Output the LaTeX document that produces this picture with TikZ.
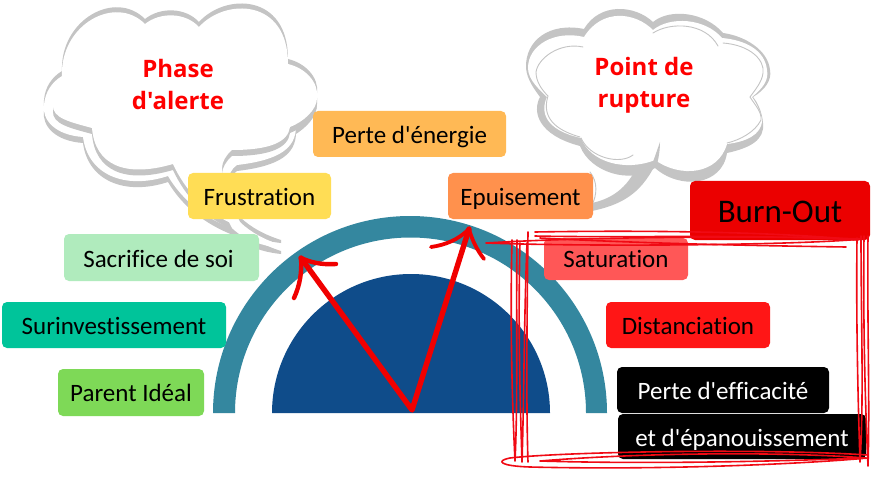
\documentclass[tikz,border=0pt]{standalone}
\usepackage{fontspec}
\newfontfamily\tagfont[Ligatures=NoCommon]{Carlito}
\newfontfamily\headfont{Open Sans}
\definecolor{ring}{HTML}{34879F}
\definecolor{dome}{HTML}{0F4C8A}
\definecolor{cloudgray}{HTML}{C4C4C4}
\definecolor{scrib}{HTML}{F00A14}
\definecolor{cEnergy}{HTML}{FFB955}
\definecolor{cFrus}{HTML}{FFDD55}
\definecolor{cEpui}{HTML}{FF914D}
\definecolor{cSacr}{HTML}{B0EBBD}
\definecolor{cSuri}{HTML}{00C49A}
\definecolor{cParent}{HTML}{7ED957}
\definecolor{cSatu}{HTML}{FF5757}
\definecolor{cDist}{HTML}{FF1616}
\definecolor{cBurn}{HTML}{EB0000}
\tikzset{
  tag/.style={rounded corners=5pt,inner sep=0pt,align=center,font=\tagfont\fontsize{25}{28}\selectfont,text=black},
  cloudshade/.style={fill=cloudgray,draw=none},
  cloudbody/.style={fill=white,draw=none},
  cloudline/.style={draw=cloudgray,line width=.9pt,line cap=round},
  cloudtitle/.style={font=\headfont\bfseries\fontsize{24}{32}\selectfont,text=red,align=center},
  scribble/.style={draw=scrib,line width=1.6pt,line cap=round,line join=round},
  hand/.style={draw=red!94!black,line width=5.4pt,line cap=round,line join=round}
}
\newcommand{\tagbox}[8]{% name, x0, y0, x1, y1, colour, lowering, text
  \node[tag,fill=#6,minimum width=#4pt-#2pt,minimum height=#5pt-#3pt] (#1) at ({(#2+#4)/2},{(#3+#5)/2}) {\raisebox{-#7pt}[\height][\depth]{#8}};}
\newcommand{\cloudQ}{(62,76) .. controls (60,25) and (115,-6) .. (145,24)
  .. controls (160,12) and (185,12) .. (199,27)
  .. controls (225,-2) and (288,-2) .. (288,64)
  .. controls (305,68) and (319,82) .. (317,98)
  .. controls (317,112) and (305,122) .. (296,128)
  .. controls (295,148) and (280,160) .. (237,165)
  .. controls (226,172) and (224,190) .. (240,222)
  .. controls (250,232) and (265,240) .. (281,245) -- (281,248)
  .. controls (262,246) and (245,240) .. (233,229)
  .. controls (205,218) and (182,200) .. (168,176)
  .. controls (125,190) and (88,175) .. (83,137)
  .. controls (55,135) and (42,120) .. (44,105)
  .. controls (45,92) and (52,82) .. (62,76) -- cycle}
\newcommand{\cloudP}{(65,72) .. controls (65,25) and (115,-2) .. (145,28)
  .. controls (160,16) and (185,16) .. (199,30)
  .. controls (225,2) and (285,2) .. (287,65)
  .. controls (305,70) and (318,85) .. (317,98)
  .. controls (317,110) and (303,122) .. (290,127)
  .. controls (288,142) and (270,150) .. (232,150)
  .. controls (226,155) and (222,162) .. (222,168)
  .. controls (222,190) and (222,205) .. (233,224)
  .. controls (205,212) and (185,190) .. (173,164)
  .. controls (125,178) and (95,165) .. (92,128)
  .. controls (70,122) and (52,118) .. (53,105)
  .. controls (54,97) and (58,92) .. (63,87) -- cycle}
\begin{document}
\begin{tikzpicture}[x=1pt,y=-1pt]
\useasboundingbox (0,0) rectangle (872,481);
\fill[white] (0,0) rectangle (872,481);
% cloud 1
\path[cloudshade,shift={(0,6)}] \cloudQ;
\path[cloudshade,shift={(0,-5)}] \cloudQ;
\path[cloudbody] \cloudQ;
\path[cloudshade,shift={(0,6)}] \cloudP;
\path[cloudbody] \cloudP;
% cloud 2 tail
\path[cloudshade] (655,165) .. controls (640,195) and (620,205) .. (592,211) -- (592,203)
  .. controls (615,198) and (630,185) .. (640,160) -- cycle;
\draw[cloudline] (590,172) .. controls (598,182) and (597,195) .. (592,205);
% cloud 2
\path[cloudshade] (653,22) .. controls (635,5) and (600,2) .. (584,29)
  .. controls (550,22) and (525,40) .. (526,68)
  .. controls (527,80) and (535,90) .. (540,97)
  .. controls (532,112) and (538,135) .. (580,146)
  .. controls (590,172) and (630,185) .. (655,168)
  .. controls (680,190) and (722,186) .. (727,153)
  .. controls (750,148) and (765,140) .. (763,123)
  .. controls (762,112) and (758,103) .. (753,97)
  .. controls (765,90) and (772,80) .. (770,70)
  .. controls (768,50) and (745,36) .. (723,33)
  .. controls (705,12) and (670,8) .. (653,22) -- cycle;
\path[cloudbody] (653,30) .. controls (635,12) and (602,8) .. (584,37)
  .. controls (555,30) and (528,45) .. (528,68)
  .. controls (528,80) and (540,90) .. (547,97)
  .. controls (540,112) and (545,130) .. (581,138)
  .. controls (590,162) and (625,172) .. (655,160)
  .. controls (680,178) and (718,175) .. (727,144)
  .. controls (745,142) and (762,135) .. (762,120)
  .. controls (761,112) and (756,103) .. (752,97)
  .. controls (763,88) and (769,80) .. (767,70)
  .. controls (765,50) and (745,40) .. (722,38)
  .. controls (705,18) and (670,16) .. (653,30) -- cycle;
\draw[cloudline] (583,47) .. controls (560,42) and (538,58) .. (536,72)
  .. controls (536,82) and (542,90) .. (548,96)
  .. controls (543,112) and (548,128) .. (580,137);
\draw[cloudline] (653,33) .. controls (670,22) and (705,22) .. (718,46);
\draw[cloudline] (723,43) .. controls (750,45) and (765,60) .. (763,73)
  .. controls (762,82) and (755,90) .. (750,97)
  .. controls (755,105) and (762,112) .. (761,120)
  .. controls (755,132) and (740,140) .. (727,143);
\draw[cloudline] (581,138) .. controls (590,158) and (620,165) .. (633,155);
\fill[cloudgray] (653,162) -- (660,142) .. controls (660,152) and (658,160) .. (657,165) -- cycle;
% dial
\fill[dome] (272,413) arc[start angle=180,end angle=360,radius=139] -- cycle;
\fill[ring] (213,413) arc[start angle=180,end angle=360,radius=197] -- (586,413)
  arc[start angle=360,end angle=180,radius=175.5] -- cycle;
\node[cloudtitle] (alerte) at (178,85) {Phase\\d'alerte};
\node[cloudtitle] (rupture) at (644,85) {Point de\\rupture};
% tags
\tagbox{energie}{313}{111}{506}{157}{cEnergy}{3}{Perte d'énergie}
\tagbox{frus}{188}{173}{331}{219}{cFrus}{1}{Frustration}
\tagbox{epui}{448}{173}{593}{219}{cEpui}{2.5}{Epuisement}
\tagbox{sacr}{64}{234}{259}{281}{cSacr}{1}{\hspace*{-6pt}Sacrifice de soi}
\tagbox{suri}{2}{302}{226}{348}{cSuri}{1}{Surinvestissement}
\tagbox{parent}{58}{369}{204}{416}{cParent}{0.5}{Parent Idéal}
\tagbox{satu}{544}{238}{688}{280}{cSatu}{0}{Saturation}
\tagbox{dist}{606}{302}{770}{348}{cDist}{1}{Distanciation}
\tagbox{eff}{617}{367}{829}{413}{black}{1}{\textcolor{white}{Perte d'efficacité}}
\tagbox{epan}{618}{414}{866}{459}{black}{3}{\textcolor{white}{et d'épanouissement}}
\tagbox{burn}{690}{181}{870}{240}{cBurn}{1}{\fontsize{33}{36}\selectfont Burn-Out}
% arrows
\coordinate (base) at (412,410);
\coordinate (tipL) at (301,258);
\coordinate (tipR) at (469,229);
\draw[hand] (tipL) -- (base) -- (tipR);
\draw[hand,line width=4.4pt] (336,264) .. controls (320,265) and (310,262) .. (tipL) .. controls (302,272) and (300,285) .. (294,298);
\draw[hand,line width=3.8pt] (431,247) .. controls (445,245) and (458,240) .. (tipR) .. controls (472,240) and (477,250) .. (484,259);
% scribbled frame
\draw[scribble] (486,243) .. controls (600,236) and (780,236) .. (862,239)
  .. controls (800,245) and (600,247) .. (486,243) -- cycle;
\draw[scribble] (535,232) .. controls (650,230) and (780,232) .. (858,240)
  .. controls (760,234) and (620,238) .. (535,236);
\draw[scribble] (540,238) .. controls (650,244) and (780,246) .. (846,247);
\draw[scribble] (512,240) .. controls (510,320) and (512,400) .. (515,461)
  .. controls (518,400) and (516,320) .. (517,240);
\draw[scribble] (520,243) .. controls (518,320) and (520,400) .. (522,462)
  .. controls (524,400) and (524,320) .. (527,243);
\draw[scribble] (528,462) .. controls (526,400) and (527,320) .. (528,232);
\draw[scribble] (857,238) .. controls (856,320) and (858,400) .. (860,462)
  .. controls (864,400) and (861,320) .. (861,236);
\draw[scribble] (864,236) .. controls (863,320) and (865,400) .. (868,466)
  .. controls (870,400) and (867,320) .. (868,236);
\draw[scribble] (868,455) .. controls (760,448) and (560,452) .. (510,458)
  .. controls (495,461) and (500,466) .. (530,467)
  .. controls (650,470) and (790,465) .. (868,458);
\draw[scribble] (540,461) .. controls (650,452) and (790,452) .. (866,458)
  .. controls (760,462) and (640,464) .. (540,461);
\end{tikzpicture}
\end{document}
